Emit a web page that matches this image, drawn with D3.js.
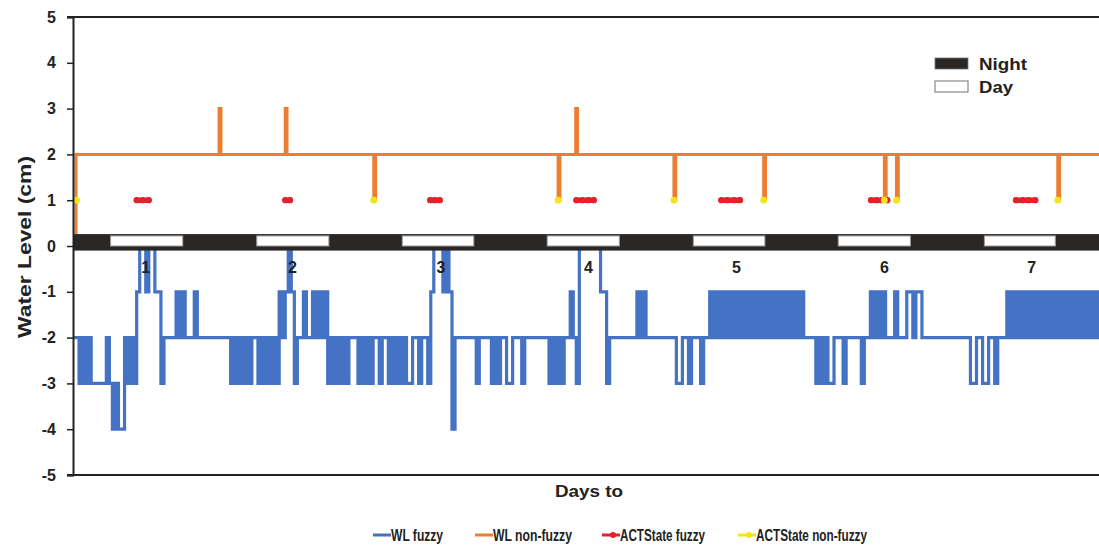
<!DOCTYPE html>
<html>
<head>
<meta charset="utf-8">
<script src="https://cdn.jsdelivr.net/npm/d3@7"></script>
<style>
  body { margin: 0; background: #fff; }
  svg { display: block; font-family: "Liberation Sans", Arial, sans-serif; }
</style>
</head>
<body>
<div id="chart"></div>
<script>
// WL fuzzy, one code per half hour (code = -level), one string per day
const wlFuzzyDays = [
  "22 32323 3333 2 3 4344 2323 1 001001132 222 1212 22 1 2222222",
  "2222 3232323 22 3232323 121 01 3 22 12212121 3232323 222 32",
  "3232 2 3 22 3232323 3 22 3 22 3 1 000 1 0 1 4 2222222 3 2222 3 2 3 22 3",
  "32 22 3 22222222 323 2 3 2 2 1 2 3 0 000000 11 3 222222222 1212 22",
  "2222222 332 232 22 3 22 121212121212121212121212121212",
  "1 2222 3 2 3233 2 22 32 2222 3 22 12121 2 22 1 2 2 2112 112 2222222",
  "22222222 332 2 332 2 32 22 1212121212121212121212121212121"
];

// WL non-fuzzy: [hour, level] change points
const wlNonFuzzy = [
  [0, 0], [0.5, 2], [24.1, 3], [24.4, 2], [35.0, 3], [35.3, 2],
  [49.6, 1], [49.9, 2], [80.0, 1], [80.3, 2], [82.9, 3], [83.2, 2],
  [99.1, 1], [99.4, 2], [113.9, 1], [114.2, 2], [133.8, 1], [134.1, 2],
  [135.8, 1], [136.1, 2], [162.4, 1], [162.7, 2], [169.2, 2]
];

// ACTState episodes (hours), state level 1
const actFuzzy = [
  [10.5, 11.5, 12.5],
  [35.0, 35.8],
  [58.9, 59.7, 60.5],
  [83.0, 84.0, 85.0, 85.9],
  [106.9, 107.9, 109.0, 110.0],
  [131.6, 132.5, 133.4, 134.3],
  [155.5, 156.6, 157.6, 158.7]
];
const actNonFuzzy = [[0.1, 0.6], [49.6], [80.0], [99.1], [113.9], [133.8], [135.8], [162.4]];
const actLevel = 1;

const daylight = [
  [6.2, 18.1], [30.3, 42.2], [54.3, 66.1], [78.2, 90.1],
  [102.3, 114.1], [126.2, 138.1], [150.3, 162.0]
];
const dayTicks = [12.0, 36.2, 60.7, 85.0, 109.4, 133.8, 158.1];
const dayLabels = ["1", "2", "3", "4", "5", "6", "7"];
const yTicks = [5, 4, 3, 2, 1, 0, -1, -2, -3, -4, -5];

const legendItems = [
  { name: "WL fuzzy", color: "#4472c4", marker: false, lx: 373, tw: 52 },
  { name: "WL non-fuzzy", color: "#ed7d31", marker: false, lx: 475, tw: 79 },
  { name: "ACTState fuzzy", color: "#e4212b", marker: true, lx: 602, tw: 85 },
  { name: "ACTState non-fuzzy", color: "#f2e51c", marker: true, lx: 738, tw: 111 }
];

const width = 1099, height = 547;
const endHour = 169.2;

const x = d3.scaleLinear().domain([0, endHour]).range([73, 1099]);
const y = d3.scaleLinear().domain([-5, 5]).range([475, 17]);

const svg = d3.select("#chart").append("svg")
  .attr("width", width)
  .attr("height", height);

svg.append("clipPath").attr("id", "plot-clip")
  .append("rect")
  .attr("x", x(0)).attr("y", y(5))
  .attr("width", x(endHour) - x(0)).attr("height", y(-5) - y(5));

// build the fuzzy series from the day strings
const wlFuzzy = [];
wlFuzzyDays.forEach((s, d) => {
  s.replace(/\s/g, "").split("").forEach((c, i) => {
    wlFuzzy.push([24 * d + 0.5 * i, -(+c)]);
  });
});
wlFuzzy.push([endHour, wlFuzzy[wlFuzzy.length - 1][1]]);

const plot = svg.append("g").attr("clip-path", "url(#plot-clip)");

const stepLine = d3.line()
  .x(d => x(d[0]))
  .y(d => y(d[1]))
  .curve(d3.curveStepAfter);

plot.append("path")
  .datum(wlFuzzy)
  .attr("fill", "none")
  .attr("stroke", "#4472c4")
  .attr("stroke-width", 3.2)
  .attr("d", stepLine);

plot.append("path")
  .datum(wlNonFuzzy)
  .attr("fill", "none")
  .attr("stroke", "#ed7d31")
  .attr("stroke-width", 3)
  .attr("d", stepLine);

// night / day band
const band = plot.append("g");
band.append("rect")
  .attr("x", x(0)).attr("width", x(endHour) - x(0))
  .attr("y", y(0.26)).attr("height", y(-0.1) - y(0.26))
  .attr("fill", "#2b2725");
band.selectAll(".day")
  .data(daylight)
  .enter()
  .append("rect")
  .attr("class", "day")
  .attr("x", d => x(d[0]))
  .attr("width", d => x(d[1]) - x(d[0]))
  .attr("y", y(0.22))
  .attr("height", y(0) - y(0.22))
  .attr("fill", "#fff")
  .attr("stroke", "#9a9a9a")
  .attr("stroke-width", 1);

// ACTState episodes
const flatLine = d3.line().x(d => x(d)).y(() => y(actLevel));

plot.selectAll(".act-fuzzy")
  .data(actFuzzy)
  .enter()
  .append("path")
  .attr("class", "act-fuzzy")
  .attr("fill", "none")
  .attr("stroke", "#e4212b")
  .attr("stroke-width", 5.5)
  .attr("stroke-linecap", "round")
  .attr("d", flatLine);
plot.selectAll(".act-fuzzy-dot")
  .data(actFuzzy.flat())
  .enter()
  .append("circle")
  .attr("cx", d => x(d)).attr("cy", y(actLevel)).attr("r", 3.1)
  .attr("fill", "#e4212b");

plot.selectAll(".act-nf")
  .data(actNonFuzzy)
  .enter()
  .append("path")
  .attr("fill", "none")
  .attr("stroke", "#f2e51c")
  .attr("stroke-width", 5.5)
  .attr("stroke-linecap", "round")
  .attr("d", flatLine);
plot.selectAll(".act-nf-dot")
  .data(actNonFuzzy.flat())
  .enter()
  .append("circle")
  .attr("cx", d => x(d)).attr("cy", y(actLevel)).attr("r", 3.4)
  .attr("fill", "#f2e51c");

// axes
const yAxis = svg.append("g")
  .attr("transform", `translate(${x(0)},0)`)
  .call(d3.axisLeft(y).tickValues(yTicks).tickSize(6).tickPadding(11).tickFormat(d => String(d)));
yAxis.select(".domain").attr("stroke", "#222").attr("stroke-width", 2);
yAxis.selectAll(".tick line").attr("stroke", "#222").attr("stroke-width", 1.5);
yAxis.selectAll(".tick text")
  .attr("fill", "#222")
  .style("font-size", "16px")
  .style("font-weight", "bold")
  .style("font-family", "Liberation Sans, Arial, sans-serif");

[5, -5].forEach(v => {
  svg.append("line")
    .attr("x1", x(0) - 6).attr("x2", width)
    .attr("y1", y(v)).attr("y2", y(v))
    .attr("stroke", "#222").attr("stroke-width", 2);
});

// day numbers under the band
svg.selectAll(".day-label")
  .data(dayTicks)
  .enter()
  .append("text")
  .attr("x", d => x(d))
  .attr("y", 273)
  .attr("text-anchor", "middle")
  .style("font-size", "16px")
  .style("font-weight", "bold")
  .attr("fill", "#222")
  .text((d, i) => dayLabels[i]);

svg.append("text")
  .attr("x", 589).attr("y", 497)
  .attr("text-anchor", "middle")
  .attr("textLength", 68).attr("lengthAdjust", "spacingAndGlyphs")
  .style("font-size", "16px").style("font-weight", "bold")
  .attr("fill", "#222")
  .text("Days to");

svg.append("text")
  .attr("transform", "translate(31,247) rotate(-90)")
  .attr("text-anchor", "middle")
  .attr("textLength", 182).attr("lengthAdjust", "spacingAndGlyphs")
  .style("font-size", "19px").style("font-weight", "bold")
  .attr("fill", "#222")
  .text("Water Level (cm)");

// night/day legend
const nd = svg.append("g");
nd.append("rect").attr("x", 935).attr("y", 58).attr("width", 33).attr("height", 11)
  .attr("fill", "#2b2725").attr("stroke", "#777").attr("stroke-width", 0.8);
nd.append("rect").attr("x", 935).attr("y", 81).attr("width", 33).attr("height", 11)
  .attr("fill", "#fff").attr("stroke", "#8a8a8a").attr("stroke-width", 1.2);
nd.append("text").attr("x", 979).attr("y", 70).attr("textLength", 48).attr("lengthAdjust", "spacingAndGlyphs")
  .style("font-size", "16px").style("font-weight", "bold").attr("fill", "#222").text("Night");
nd.append("text").attr("x", 979).attr("y", 93).attr("textLength", 34).attr("lengthAdjust", "spacingAndGlyphs")
  .style("font-size", "16px").style("font-weight", "bold").attr("fill", "#222").text("Day");

// series legend
const lg = svg.append("g");
legendItems.forEach(it => {
  lg.append("line")
    .attr("x1", it.lx).attr("x2", it.lx + 18)
    .attr("y1", 535).attr("y2", 535)
    .attr("stroke", it.color).attr("stroke-width", 3);
  if (it.marker) {
    lg.append("circle").attr("cx", it.lx + 11).attr("cy", 535).attr("r", 3).attr("fill", it.color);
  }
  lg.append("text")
    .attr("x", it.lx + 18).attr("y", 541)
    .attr("textLength", it.tw).attr("lengthAdjust", "spacingAndGlyphs")
    .style("font-size", "16px").style("font-weight", "bold")
    .attr("fill", "#222")
    .text(it.name);
});
</script>
</body>
</html>
